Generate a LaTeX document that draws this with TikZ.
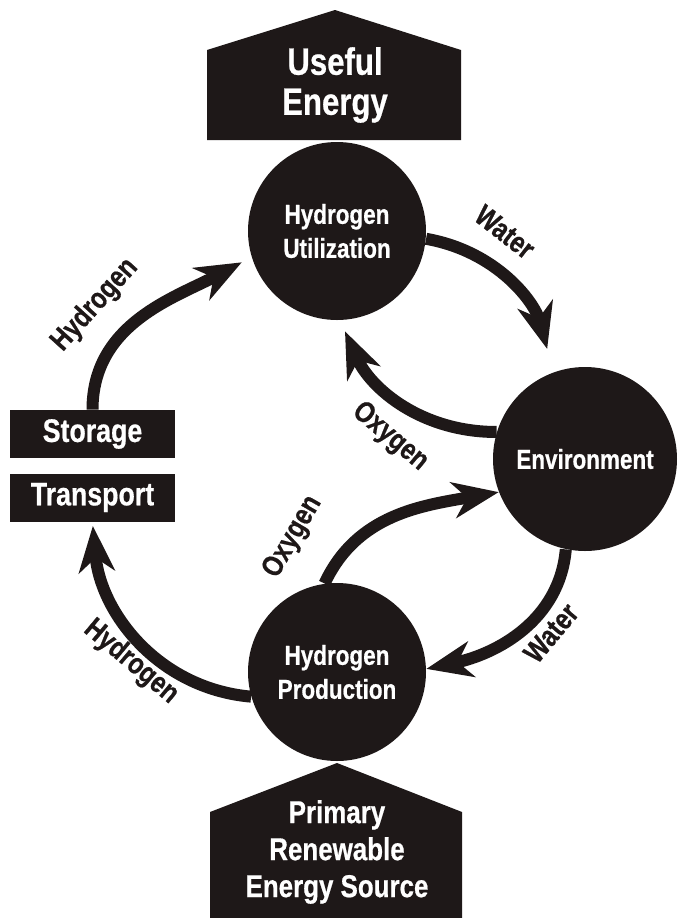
\documentclass[tikz,border=0pt]{standalone}
\usepackage{fontspec}
\newfontfamily\condfont{Liberation Sans}[FakeStretch=0.82,FakeBold=0.6]
\usetikzlibrary{arrows.meta}
\definecolor{Ink}{RGB}{30,24,24}
\tikzset{
  hub/.style={circle,fill=Ink,text=white,minimum size=89pt,inner sep=0pt,align=center,
    font=\condfont\bfseries\fontsize{13.7}{17}\selectfont},
  tag/.style={fill=Ink,text=white,minimum width=82.5pt,minimum height=24pt,inner sep=0pt,
    font=\condfont\bfseries\fontsize{16.3}{19}\selectfont},
  roof/.style={fill=Ink},
  rooftext/.style={text=white,align=center,inner sep=0pt},
}
\tikzset{flow/.style={draw=Ink,line width=6pt,-{Stealth[length=23pt,width=18pt,inset=7pt]}}, flowlab/.style={font=\condfont\bfseries\fontsize{14.8}{16}\selectfont,text=Ink,inner sep=0pt}}

\begin{document}
\begin{tikzpicture}[x=0.5pt,y=-0.5pt]
\useasboundingbox (0,0) rectangle (678,918);
% top and bottom roofs
\fill[roof] (207,140) -- (207,50) -- (335,10) -- (461,50) -- (461,140) -- cycle;
\fill[roof] (210,918) -- (210,812) -- (337,763) -- (462,812) -- (462,918) -- cycle;
\node[rooftext,font=\condfont\bfseries\fontsize{19}{20}\selectfont] (useful) at (335,85) {Useful\\Energy};
\node[rooftext,font=\condfont\bfseries\fontsize{15.8}{18.5}\selectfont] (primary) at (337,852) {Primary\\Renewable\\Energy Source};
% circles
\node[hub] (util) at (337,231) {Hydrogen\\Utilization};
\node[hub,minimum size=92pt] (env) at (585,459) {Environment};
\node[hub] (prod) at (337,672) {Hydrogen\\Production};
% boxes
\node[tag] (storage) at (92.5,434) {Storage};
\node[tag] (transport) at (92.5,497.5) {Transport};
% arrows
\draw[flow,shorten >=5.5pt] (storage.north) to[out=90,in=208] (util.197);
\draw[flow,shorten >=12pt] (util.-5) to[out=-10,in=105] (env.110);
\draw[flow,shorten >=6pt] (env.163) to[out=180,in=-66] (util.-88);
\draw[flow] (prod.98) to[out=65,in=190] (env.201);
\draw[flow] (env.258) to[out=-95,in=12] (prod.2);
\draw[flow,shorten >=2pt] (prod.196) to[out=175,in=-85] (transport.south);
% labels
\node[flowlab,rotate=48] (h2up) at (95,305) {Hydrogen};
\node[flowlab,rotate=-38] (waterup) at (505,232) {Water};
\node[flowlab,rotate=-40] (o2up) at (390,437) {Oxygen};
\node[flowlab,rotate=60] (o2low) at (293,537) {Oxygen};
\node[flowlab,rotate=50] (waterlow) at (551,633) {Water};
\node[flowlab,rotate=-40] (h2low) at (131,662) {Hydrogen};
\end{tikzpicture}
\end{document}
